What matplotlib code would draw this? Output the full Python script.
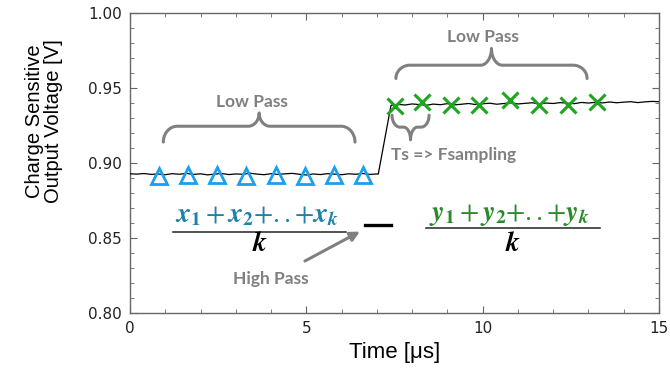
import numpy as np
import matplotlib
matplotlib.use('Agg')
import matplotlib.pyplot as plt
from matplotlib.ticker import MultipleLocator, FormatStrFormatter

plt.rcParams['mathtext.fontset'] = 'stix'

# Measured trace: baseline before the step, then the level after it
base_v = [0.8928, 0.8926, 0.8930, 0.8924, 0.8927, 0.8922, 0.8929, 0.8925, 0.8931,
          0.8924, 0.8928, 0.8921, 0.8926, 0.8930, 0.8923, 0.8927, 0.8925, 0.8932,
          0.8926, 0.8922, 0.8929, 0.8924, 0.8928, 0.8931, 0.8925, 0.8920, 0.8927,
          0.8923, 0.8929, 0.8926, 0.8922, 0.8928, 0.8925, 0.8930, 0.8924, 0.8927]
step_t = [7.04, 7.40]
step_v = [0.8926, 0.9385]
high_v = [0.9392, 0.9388, 0.9395, 0.9391, 0.9386, 0.9394, 0.9390, 0.9397, 0.9389,
          0.9393, 0.9398, 0.9391, 0.9396, 0.9400, 0.9393, 0.9398, 0.9402, 0.9395,
          0.9399, 0.9403, 0.9396, 0.9401, 0.9398, 0.9404, 0.9400, 0.9397, 0.9405,
          0.9401, 0.9406, 0.9402, 0.9408, 0.9403, 0.9407, 0.9410, 0.9404, 0.9409,
          0.9412, 0.9410]

# Samples before the step (triangles) and after it (crosses)
tri_t = [0.83, 1.65, 2.46, 3.29, 4.14, 4.96, 5.78, 6.61]
tri_v = [0.8915, 0.8920, 0.8920, 0.8912, 0.8920, 0.8915, 0.8920, 0.8920]
cross_t = [7.51, 8.29, 9.09, 9.90, 10.77, 11.60, 12.43, 13.25]
cross_v = [0.9382, 0.9405, 0.9387, 0.9387, 0.9420, 0.9389, 0.9387, 0.9409]

x_ticks = [0, 5, 10, 15]
y_ticks = [0.80, 0.85, 0.90, 0.95, 1.00]

GRAY = '#808080'
W, H = 670, 370
AX_POS = [0.194, 0.155, 0.7896, 0.8087]
XLIM = (0, 15)
YLIM = (0.80, 1.00)

px_x = AX_POS[2] * W / (XLIM[1] - XLIM[0])   # pixels per us


def brace(ax, x0, x1, y_arm, y_bar, y_tip, r_arm=14, r_tip=11, **kw):
    """Curly brace from x0 to x1, arms end at y_arm, point at y_tip."""
    ra = r_arm / px_x
    rt = r_tip / px_x
    xm = (x0 + x1) / 2
    phi = np.linspace(0, np.pi / 2, 30)
    ax_l = x0 + ra * (1 - np.cos(phi))
    ay_l = y_arm + (y_bar - y_arm) * np.sin(phi)
    tx_l = xm - rt + rt * np.sin(phi)
    ty_l = y_bar + (y_tip - y_bar) * (1 - np.cos(phi))
    xs = np.concatenate([ax_l, tx_l])
    ys = np.concatenate([ay_l, ty_l])
    xs = np.concatenate([xs, (2 * xm - xs)[::-1]])
    ys = np.concatenate([ys, ys[::-1]])
    ax.plot(xs, ys, solid_capstyle='round', **kw)


fig = plt.figure(figsize=(W / 100, H / 100), dpi=100)
ax = fig.add_axes(AX_POS)

# trace
t_base = np.linspace(0, 7.0, len(base_v))
t_high = np.linspace(7.6, 15.0, len(high_v))
t_all = np.concatenate([t_base, step_t, t_high])
v_all = np.concatenate([base_v, step_v, high_v])
ax.plot(t_all, v_all, color='black', lw=0.9, zorder=3)

ax.plot(tri_t, tri_v, ls='none', marker='^', ms=11, mfc='none',
        mec='#1aa0ee', mew=2.0, zorder=4)
ax.plot(cross_t, cross_v, ls='none', marker='x', ms=12, mec='#1fa51f',
        mew=2.2, zorder=4)

ax.set_xlim(*XLIM)
ax.set_ylim(*YLIM)
ax.set_xticks(x_ticks)
ax.set_yticks(y_ticks)
ax.xaxis.set_minor_locator(MultipleLocator(1))
ax.yaxis.set_minor_locator(MultipleLocator(0.01))
ax.yaxis.set_major_formatter(FormatStrFormatter('%.2f'))
ax.tick_params(which='both', direction='in', top=True, right=True,
               color='#666666', labelcolor='#222222', labelsize=11)
ax.tick_params(which='major', length=5, pad=6)
ax.tick_params(which='minor', length=3)
for sp in ax.spines.values():
    sp.set_color('#666666')
    sp.set_linewidth(1.0)

ax.set_xlabel('Time [\u03bcs]', fontsize=16, family='Liberation Sans', labelpad=4)
fig.text(0.066, 1 - 121 / H, 'Charge Sensitive\nOutput Voltage [V]', rotation=90,
         ha='center', va='center', fontsize=14.5, family='Liberation Sans',
         linespacing=1.0)

# braces and their labels
lab = dict(color=GRAY, fontweight='bold', family='Lato', fontsize=12.5,
           ha='center', va='center')
brace(ax, 0.945, 6.38, 0.914, 0.9246, 0.9335, color=GRAY, lw=2.2)
ax.text(3.46, 0.941, 'Low Pass', **lab)
brace(ax, 7.54, 12.96, 0.9565, 0.9654, 0.9766, color=GRAY, lw=2.2)
ax.text(10.0, 0.9843, 'Low Pass', **lab)
brace(ax, 7.43, 8.48, 0.932, 0.9240, 0.9155, r_arm=8, r_tip=7, color=GRAY, lw=2.2)
ax.text(7.40, 0.9056, 'Ts => Fsampling', **{**lab, 'ha': 'left'})

# averaging formulas
ax.text(3.61, 0.8658, r'$\mathbfit{x}_{\mathbf{1}}+\mathbfit{x}_{\mathbf{2}}{+}..{+}\mathbfit{x}_{\mathbfit{k}}$',
        color='#2080a8', fontsize=20, ha='center', va='center')
ax.plot([1.21, 6.12], [0.854, 0.854], color='#222222', lw=1.1)
ax.text(3.69, 0.8464, r'$\mathbfit{k}$', color='black', fontsize=20,
        ha='center', va='center')

ax.plot([6.67, 7.39], [0.8587, 0.8587], color='black', lw=2.4)

ax.text(10.75, 0.8658, r'$\mathbfit{y}_{\mathbf{1}}+\mathbfit{y}_{\mathbf{2}}{+}..{+}\mathbfit{y}_{\mathbfit{k}}$',
        color='#2a8a2a', fontsize=20, ha='center', va='center')
ax.plot([8.38, 13.33], [0.8564, 0.8564], color='#222222', lw=1.1)
ax.text(10.85, 0.8464, r'$\mathbfit{k}$', color='black', fontsize=20,
        ha='center', va='center')

ax.annotate('', xy=(6.52, 0.8542), xytext=(4.96, 0.8345),
            arrowprops=dict(arrowstyle='-|>', color=GRAY, lw=2.2,
                            mutation_scale=14, shrinkA=0, shrinkB=0))
ax.text(3.99, 0.8225, 'High Pass', **lab)

fig.savefig('out.png', dpi=100)
